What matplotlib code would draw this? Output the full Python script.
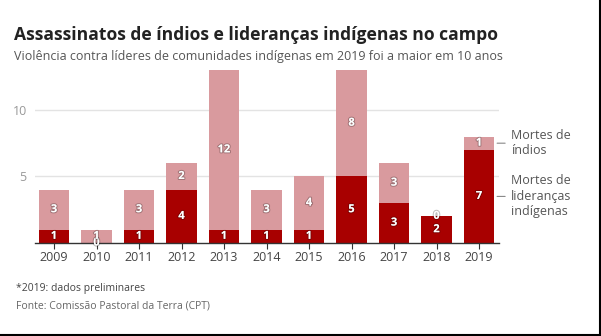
import matplotlib
matplotlib.use("Agg")
import matplotlib.pyplot as plt
import matplotlib.patheffects as pe
import numpy as np

plt.rcParams['font.family'] = ['Open Sans', 'DejaVu Sans']

# dados (CPT)
anos = ['2009', '2010', '2011', '2012', '2013', '2014', '2015', '2016', '2017', '2018', '2019']
liderancas = [1, 0, 1, 4, 1, 1, 1, 5, 3, 2, 7]
indios = [3, 1, 3, 2, 12, 3, 4, 8, 3, 0, 1]

escuro = '#a80000'
claro = '#d99a9e'

W, H = 601, 336
fig = plt.figure(figsize=(W / 100, H / 100), dpi=100)

ax = fig.add_axes([35 / W, (H - 243) / H, (499 - 35) / W, (243 - 70) / H])

x = np.arange(len(anos))
lid = np.array(liderancas)
ind = np.array(indios)

ax.bar(x, lid, width=0.71, color=escuro, zorder=2)
ax.bar(x, ind, width=0.71, bottom=lid, color=claro, zorder=2)

sombra = [pe.withStroke(linewidth=1.5, foreground=(0, 0, 0, 0.25))]
for i in range(len(anos)):
    # valor das lideranças
    yb = lid[i] / 2 if lid[i] > 0 else 0
    ax.text(x[i], yb, str(lid[i]), ha='center', va='center', color='white',
            fontsize=8, fontweight='bold', path_effects=sombra, zorder=4)
    yt = lid[i] + ind[i] / 2 if ind[i] > 0 else lid[i]
    ax.text(x[i], yt, str(ind[i]), ha='center', va='center', color='white',
            fontsize=8, fontweight='bold', path_effects=sombra, zorder=4)

ax.set_xlim(-0.447, 10.47)
ax.set_ylim(0, 13)
ax.set_yticks([5, 10])
ax.set_xticks(x)
ax.set_xticklabels(anos)
ax.grid(axis='y', color='#e3e3e3', linewidth=1, zorder=0)
ax.set_axisbelow(True)
for s in ['top', 'right', 'left']:
    ax.spines[s].set_visible(False)
ax.spines['bottom'].set_color('#333333')
ax.spines['bottom'].set_linewidth(1)
ax.tick_params(axis='y', length=0, pad=6, labelsize=9, labelcolor='#999999')
ax.tick_params(axis='x', length=4, width=0.8, color='#333333', pad=2,
               labelsize=9, labelcolor='#444444')

# rótulos à direita
ult = len(anos) - 1
for yv, txt in [(lid[ult] + ind[ult] / 2, 'Mortes de\níndios'),
                (lid[ult] / 2, 'Mortes de\nlideranças\nindígenas')]:
    ax.annotate('', xy=(ult + 0.36, yv), xytext=(ult + 0.68, yv),
                arrowprops=dict(arrowstyle='-', color='#888888', lw=0.8),
                annotation_clip=False)
    ax.text(ult + 0.75, yv, txt, ha='left', va='center', fontsize=9,
            color='#555555', linespacing=1.25, clip_on=False)

fig.text(14 / W, 1 - 40 / H, 'Assassinatos de índios e lideranças indígenas no campo',
         fontsize=12.6, fontweight='bold', color='#222222', va='baseline')
fig.text(14 / W, 1 - 60 / H,
         'Violência contra líderes de comunidades indígenas em 2019 foi a maior em 10 anos',
         fontsize=9.0, color='#555555', va='baseline')
fig.text(16 / W, 1 - 291 / H, '*2019: dados preliminares', fontsize=7.5,
         color='#444444', va='baseline')
fig.text(16 / W, 1 - 308 / H, 'Fonte: Comissão Pastoral da Terra (CPT)', fontsize=7.5,
         color='#666666', va='baseline')

# moldura da captura
fig.add_artist(plt.Line2D([0, 1], [0.8 / H, 0.8 / H], color='black', lw=1.5))
fig.add_artist(plt.Line2D([1 - 0.8 / W, 1 - 0.8 / W], [0, 1], color='black', lw=1.5))

fig.savefig('out.png', dpi=100)
